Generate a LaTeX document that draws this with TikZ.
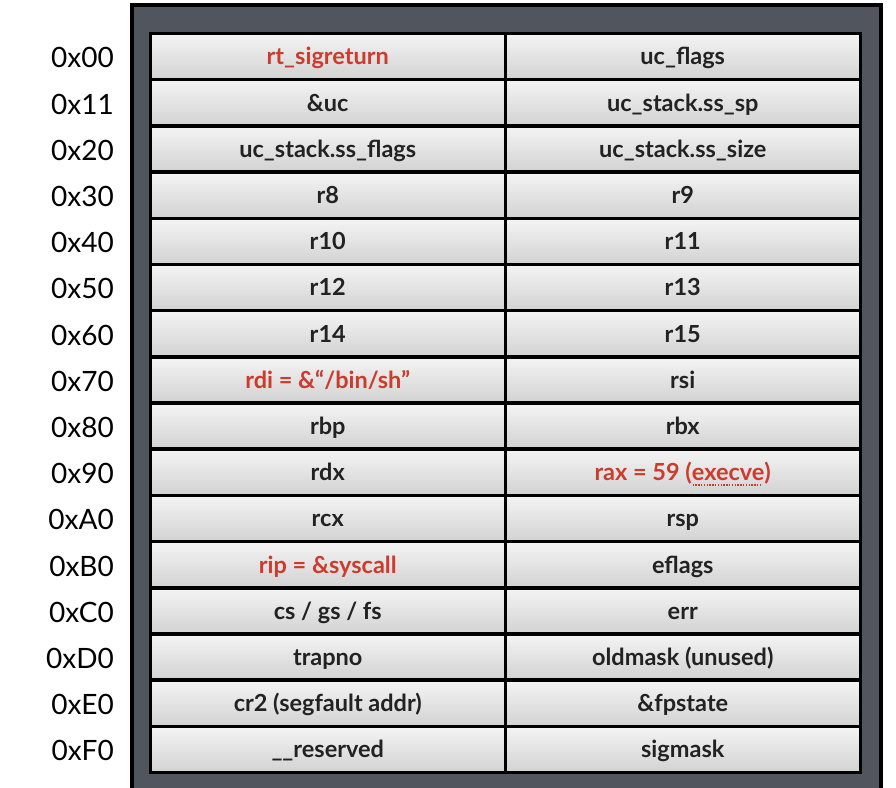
\documentclass[tikz,border=0pt]{standalone}
\usepackage{fontspec}
\setmainfont{Lato}
\definecolor{boxgray}{HTML}{51555D}
\definecolor{redtxt}{HTML}{CC3B2C}
\definecolor{celltop}{HTML}{F4F4F4}
\definecolor{cellbot}{HTML}{D2D2D2}
\definecolor{txtdark}{HTML}{222222}
\newsavebox\ulbox
\newcommand\dotul[1]{\sbox\ulbox{#1}\rlap{\hbox to \wd\ulbox{\leaders\hbox to 2.8pt{\hss\rule[-5pt]{1.4pt}{1.4pt}\hss}\hfill}}\usebox\ulbox}
\tikzset{
  cellbox/.style={draw=black, line width=3.5pt, top color=celltop, bottom color=cellbot,
    minimum width=355pt, minimum height=46.19pt, inner sep=0pt, outer sep=0pt,
    text height=20pt, text depth=3.2pt,
    font=\fontsize{23.5}{26}\selectfont\bfseries, text=txtdark},
  offlabel/.style={anchor=east, font=\fontsize{28}{32}\selectfont, text=black, inner sep=0pt,
    text height=22.8pt, text depth=0pt},
  hot/.style={text=redtxt}
}
\newcommand\memrow[5][]{%
  \node[offlabel] (a#2) at (114, {33.5+46.19*(#2+0.5)}) {#3};
  \node[cellbox,#1] (l#2) at (327.75, {33.5+46.19*(#2+0.5)}) {#4};
  \node[cellbox] (r#2) at (682.75, {33.5+46.19*(#2+0.5)}) {#5};
}
\begin{document}
\begin{tikzpicture}[x=1pt,y=-1pt]
\useasboundingbox (0,0) rectangle (896,787);
\clip (0,0) rectangle (896,787);
\fill[white] (0,0) rectangle (896,787);
\node[draw=black, line width=4pt, fill=boxgray, minimum width=749pt, minimum height=800pt,
  inner sep=0pt, outer sep=0pt, anchor=north west] (frame) at (132,5) {};
\memrow[hot]{0}{0x00}{rt\_sigreturn}{uc\_flags}
\memrow{1}{0x11}{\&uc}{uc\_stack.ss\_sp}
\memrow{2}{0x20}{uc\_stack.ss\_flags}{uc\_stack.ss\_size}
\memrow{3}{0x30}{r8}{r9}
\memrow{4}{0x40}{r10}{r11}
\memrow{5}{0x50}{r12}{r13}
\memrow{6}{0x60}{r14}{r15}
\memrow[hot]{7}{0x70}{rdi = \&“/bin/sh”}{rsi}
\memrow{8}{0x80}{rbp}{rbx}
\memrow{9}{0x90}{rdx}{\textcolor{redtxt}{rax = 59 (\dotul{execve})}}
\memrow{10}{0xA0}{rcx}{rsp}
\memrow[hot]{11}{0xB0}{rip = \&syscall}{eflags}
\memrow{12}{0xC0}{cs / gs / fs}{err}
\memrow{13}{0xD0}{trapno}{oldmask (unused)}
\memrow{14}{0xE0}{cr2 (segfault addr)}{\&fpstate}
\memrow{15}{0xF0}{\_\_reserved}{sigmask}
\end{tikzpicture}
\end{document}
